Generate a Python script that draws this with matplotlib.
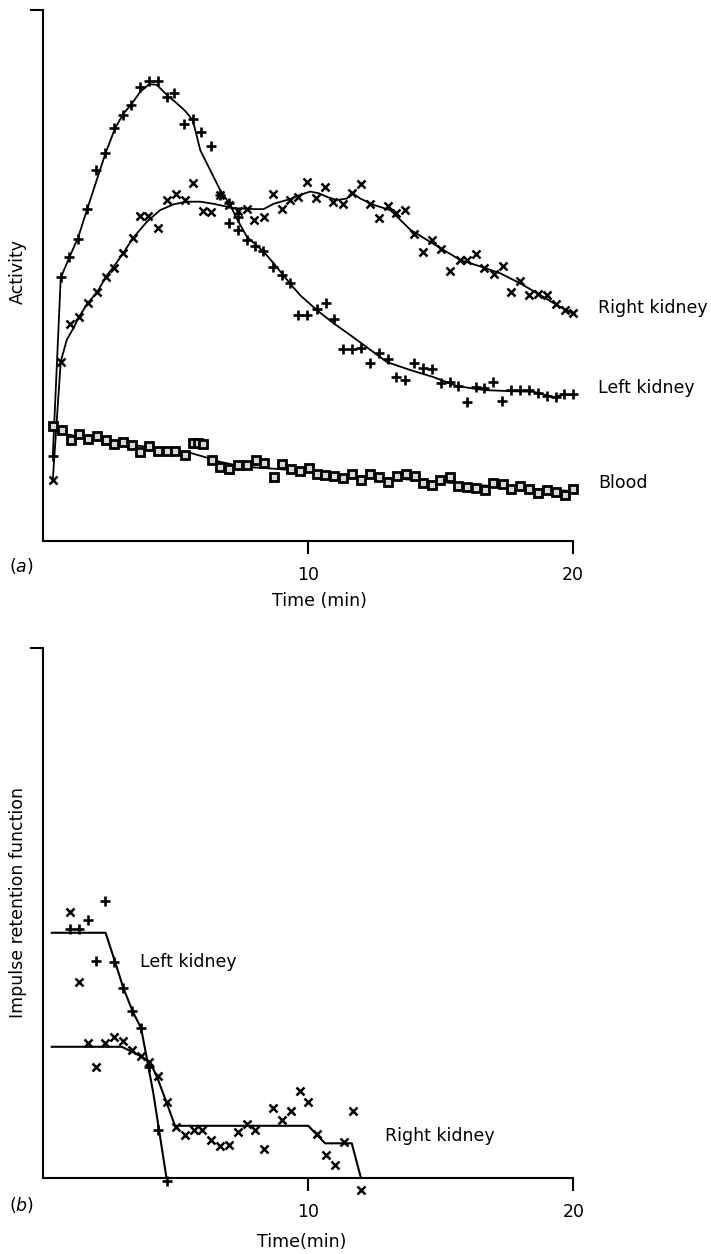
import matplotlib.pyplot as plt

plt.rcParams['font.family'] = 'DejaVu Sans'
plt.rcParams['font.size'] = 12.5

# (a) renogram: activity (arbitrary units) against time (min)
left_t = [0.37, 0.68, 0.99, 1.33, 1.67, 2.01, 2.36, 2.68, 3.01, 3.32, 3.67, 4.02, 4.35, 4.68,
          4.95, 5.33, 5.66, 5.97, 6.34, 6.69, 7.02, 7.02, 7.35, 7.35, 7.70, 8.0, 8.31, 8.70,
          9.02, 9.34, 9.64, 9.97, 10.35, 10.69, 11.0, 11.33, 11.67, 12.01, 12.36, 12.68, 13.02,
          13.35, 13.66, 14.0, 14.36, 14.69, 15.04, 15.36, 15.66, 16.02, 16.37, 16.67, 17.0,
          17.33, 17.68, 18.03, 18.36, 18.69, 19.02, 19.36, 19.67, 20.03]
left_a = [16.0, 49.7, 53.5, 56.9, 62.5, 69.9, 73.1, 77.8, 80.2, 82.1, 85.5, 86.6, 86.6, 83.6,
          84.4, 78.5, 79.5, 77.0, 74.4, 65.2, 63.7, 59.9, 61.0, 58.6, 56.7, 55.6, 54.6, 51.6,
          50.1, 48.6, 42.6, 42.6, 43.7, 44.8, 41.8, 36.2, 36.2, 36.3, 33.5, 35.4, 34.3,
          30.9, 30.3, 33.5, 32.6, 32.4, 29.8, 29.9, 29.2, 26.2, 29.0, 28.8, 29.9,
          26.4, 28.4, 28.4, 28.4, 27.9, 27.3, 27.1, 27.7, 27.7]

left_fit_t = [0.37, 0.67, 1.02, 1.33, 1.67, 2.03, 2.36, 2.72, 3.04, 3.35, 3.67, 3.98, 4.12, 4.30,
              4.68, 5.06, 5.37, 5.66, 5.94, 6.31, 6.69, 7.07, 7.31, 7.70, 8.33, 8.71, 9.33, 9.71,
              10.34, 10.95, 11.6, 12.23, 12.99, 13.87, 14.73, 15.63, 16.4, 16.77, 17.77, 18.53,
              19.28, 19.66, 20.0]
left_fit_a = [16.0, 49.6, 53.7, 57.2, 62.5, 68.0, 73.0, 77.7, 80.5, 82.3, 84.6, 85.9, 86.0, 85.9,
              84.0, 82.4, 81.0, 79.2, 73.6, 69.9, 66.1, 63.3, 60.8, 57.3, 54.5, 52.3, 48.5, 46.3,
              43.5, 41.1, 38.8, 36.5, 33.7, 32.2, 30.9, 29.2, 28.6, 28.4, 28.2, 28.1,
              27.1, 27.5, 27.5]

right_t = [0.37, 0.67, 1.02, 1.36, 1.69, 2.04, 2.37, 2.70, 3.04, 3.39, 3.67, 3.98, 4.36, 4.68,
           5.02, 5.37, 5.66, 6.04, 6.34, 6.67, 7.02, 7.35, 7.70, 7.98, 8.33, 8.68, 9.02, 9.33,
           9.65, 9.99, 10.33, 10.66, 10.97, 11.33, 11.67, 12.0, 12.36, 12.68, 13.02, 13.35,
           13.66, 14.0, 14.36, 14.69, 15.04, 15.36, 15.74, 16.02, 16.37, 16.67, 17.02, 17.36,
           17.68, 18.03, 18.36, 18.69, 19.04, 19.36, 19.7, 20.03]
right_a = [11.5, 33.8, 40.9, 42.2, 44.8, 46.9, 49.7, 51.4, 54.2, 57.0, 61.2, 61.2, 58.9, 64.2,
           65.3, 64.2, 67.4, 62.2, 62.0, 65.2, 63.3, 62.1, 62.5, 60.5, 61.1, 65.3, 62.5, 64.2,
           64.7, 67.7, 64.6, 66.6, 63.9, 63.4, 65.6, 67.3, 63.5, 60.8, 63.0, 61.8,
           62.3, 57.9, 54.5, 56.6, 54.9, 50.9, 52.9, 52.9, 54.0, 51.5, 50.3, 51.8,
           46.8, 49.0, 46.3, 46.6, 46.3, 44.6, 43.5, 42.9]

right_fit_t = [0.37, 0.67, 0.9, 1.15, 1.36, 1.69, 2.05, 2.38, 2.72, 3.04, 3.39, 3.92, 4.42, 4.93,
               5.43, 5.94, 6.44, 7.19, 7.95, 8.33, 8.71, 9.34, 9.72, 10.09, 10.41, 10.73, 11.1,
               11.48, 11.67, 11.98, 12.49, 13.12, 13.88, 14.5, 15.13, 15.77, 16.52, 17.28,
               18.03, 18.79, 19.42, 20.0]
right_fit_a = [11.5, 33.8, 37.9, 40.1, 42.2, 44.8, 46.9, 49.8, 52.0, 54.3, 57.0, 60.1, 62.3, 63.4,
               63.9, 63.9, 63.5, 62.7, 62.5, 62.5, 63.5, 64.4, 65.2, 65.8, 65.5, 64.8, 64.2,
               64.5, 65.6, 64.5, 63.3, 62.3, 58.6, 56.7, 54.8, 52.9, 51.7, 50.4,
               48.5, 46.3, 44.4, 42.9]

blood_t = [0.37, 0.71, 1.05, 1.36, 1.69, 2.03, 2.37, 2.68, 3.04, 3.35, 3.67, 4.02, 4.36, 4.68,
           4.99, 5.37, 5.68, 5.86, 6.04, 6.38, 6.69, 7.04, 7.38, 7.70, 8.04, 8.35, 8.71, 9.02,
           9.36, 9.69, 10.03, 10.34, 10.66, 11.0, 11.35, 11.67, 12.01, 12.34, 12.68, 13.02,
           13.37, 13.72, 14.04, 14.35, 14.69, 15.01, 15.36, 15.68, 16.02, 16.36, 16.68, 17.0,
           17.36, 17.69, 18.03, 18.36, 18.69, 19.05, 19.36, 19.7, 20.03]
blood_a = [21.7, 20.9, 19.0, 20.1, 19.2, 19.8, 19.0, 18.2, 18.6, 18.1, 16.7, 17.9, 16.9, 16.9,
           16.9, 16.2, 18.5, 18.5, 18.3, 15.3, 14.0, 13.6, 14.3, 14.3, 15.3, 14.6, 12.0, 14.5,
           13.6, 13.2, 13.7, 12.6, 12.4, 12.3, 11.8, 12.7, 11.5, 12.7, 12.1, 11.1,
           12.3, 12.6, 12.3, 10.9, 10.5, 11.5, 12.0, 10.4, 10.2, 9.9, 9.6, 10.9,
           10.7, 9.7, 10.4, 9.7, 9.0, 9.6, 9.3, 8.7, 9.7]

blood_fit_t = [0.37, 0.71, 1.40, 2.53, 3.67, 4.99, 5.56, 6.12, 6.69, 7.26, 7.83, 8.77, 9.72,
               10.85, 11.98, 13.5, 15.01, 16.52, 18.03, 20.0]
blood_fit_a = [21.5, 20.3, 19.6, 18.6, 17.9, 17.1, 16.6, 15.8, 14.9, 14.3, 13.9, 13.6, 13.2,
               12.6, 12.2, 11.7, 11.1, 10.5, 10.0, 9.4]

# (b) impulse retention function
b_left_t = [1.0, 1.33, 1.67, 2.0, 2.33, 2.67, 3.0, 3.33, 3.67, 4.0, 4.33, 4.67]
b_left_v = [47.0, 47.0, 48.7, 41.0, 52.3, 40.8, 35.9, 31.5, 28.3, 21.0, 9.2, -0.6]
b_left_fit_t = [0.32, 2.35, 2.71, 3.02, 3.37, 3.69, 3.87, 4.15, 4.65, 20.0]
b_left_fit_v = [46.3, 46.3, 40.8, 35.9, 31.5, 28.3, 23.6, 16.1, 0.0, 0.0]

b_right_t = [1.0, 1.33, 1.67, 2.0, 2.33, 2.67, 3.0, 3.33, 3.67, 4.0, 4.33, 4.67, 5.0, 5.33,
             5.67, 6.0, 6.33, 6.67, 7.0, 7.33, 7.67, 8.0, 8.33, 8.67, 9.0, 9.33, 9.67, 10.0,
             10.33, 10.67, 11.0, 11.33, 11.67, 12.0]
b_right_v = [50.3, 37.0, 25.5, 20.9, 25.6, 26.7, 25.9, 24.2, 23.1, 22.0, 19.2, 14.4, 9.6, 8.2,
             9.1, 9.1, 7.2, 6.0, 6.3, 8.8, 10.2, 9.2, 5.5, 13.3, 11.0, 12.6, 16.5, 14.3,
             8.3, 4.3, 2.6, 6.8, 12.7, -2.3]
b_right_fit_t = [0.32, 2.96, 3.37, 3.69, 4.03, 4.30, 4.65, 4.97, 10.0, 10.63, 11.64, 11.99, 20.0]
b_right_fit_v = [24.8, 24.8, 23.8, 23.0, 21.9, 19.0, 14.3, 9.9, 9.9, 6.6, 6.6, 0.0, 0.0]

W, H = 711, 1254
fig = plt.figure(figsize=(W / 100, H / 100), dpi=100)
ax1 = fig.add_axes([43 / W, 1 - 541 / H, 529.5 / W, 531 / H])
ax2 = fig.add_axes([43.3 / W, 1 - 1178.3 / H, 530 / W, 530.3 / H])

mk = dict(color='black', linestyle='none', clip_on=False)
ax1.plot(left_fit_t, left_fit_a, color='black', lw=1.3)
ax1.plot(right_fit_t, right_fit_a, color='black', lw=1.3)
ax1.plot(blood_fit_t, blood_fit_a, color='black', lw=1.3)
ax1.plot(left_t, left_a, marker='+', ms=7.5, mew=1.9, **mk)
ax1.plot(right_t, right_a, marker='x', ms=6, mew=1.8, **mk)
ax1.plot(blood_t, blood_a, marker='s', ms=5.5, mew=2.0, mfc='0.85', mec='black', **mk)

ax2.plot(b_left_fit_t, b_left_fit_v, color='black', lw=1.5)
ax2.plot(b_right_fit_t, b_right_fit_v, color='black', lw=1.5)
ax2.plot(b_left_t, b_left_v, marker='+', ms=7.5, mew=1.9, **mk)
ax2.plot(b_right_t, b_right_v, marker='x', ms=6, mew=1.8, **mk)

for ax in (ax1, ax2):
    ax.set_xlim(0, 20)
    ax.set_ylim(0, 100)
    ax.spines['top'].set_visible(False)
    ax.spines['right'].set_visible(False)
    ax.spines['left'].set_linewidth(1.5)
    ax.spines['bottom'].set_linewidth(1.5)
    ax.set_xticks([10, 20])
    ax.set_xticklabels(['10', '20'])
    ax.set_yticks([100])
    ax.set_yticklabels([''])
    ax.tick_params(axis='x', direction='out', length=9, width=1.5, pad=9, labelsize=12.5)
    ax.tick_params(axis='y', direction='out', length=9.5, width=1.5)


def label(x, y, s, **kw):
    fig.text(x / W, 1 - y / H, s, va='center', **kw)


label(18, 272, 'Activity', ha='center', rotation=90)
label(319, 601, 'Time (min)', ha='center')
label(9, 566, '(' + r'$\mathit{a}$' + ')', ha='left')
label(598, 308, 'Right kidney', ha='left')
label(598, 388, 'Left kidney', ha='left')
label(598, 483, 'Blood', ha='left')

label(18, 903, 'Impulse retention function', ha='center', rotation=90)
label(302, 1242, 'Time(min)', ha='center')
label(9, 1205, '(' + r'$\mathit{b}$' + ')', ha='left')
label(140, 962, 'Left kidney', ha='left')
label(385, 1136, 'Right kidney', ha='left')

fig.savefig('out.png', dpi=100)
